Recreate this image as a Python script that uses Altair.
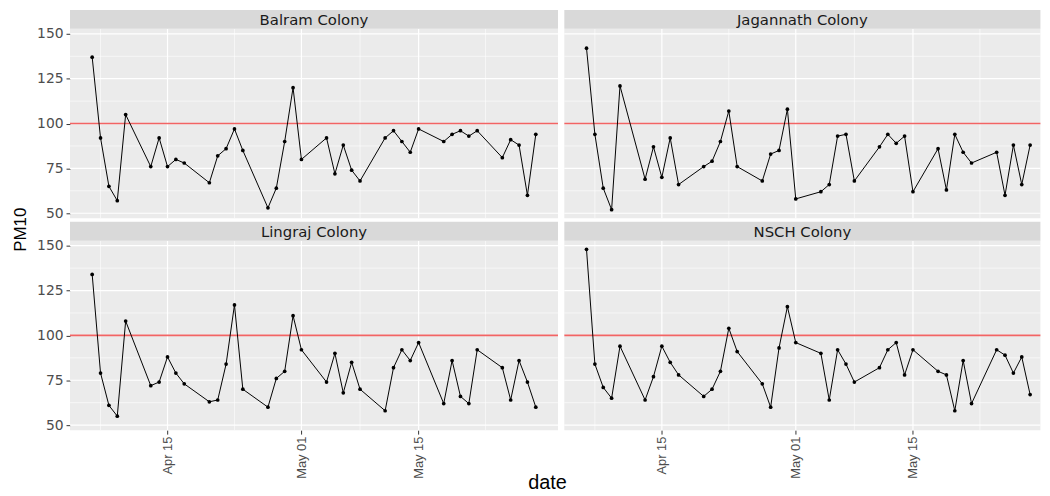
import altair as alt
import pandas as pd

colonies = ["Balram Colony", "Jagannath Colony", "Lingraj Colony", "NSCH Colony"]

dates = [
    "2020-04-06", "2020-04-07", "2020-04-08", "2020-04-09", "2020-04-10",
    "2020-04-13", "2020-04-14", "2020-04-15", "2020-04-16", "2020-04-17",
    "2020-04-20", "2020-04-21", "2020-04-22", "2020-04-23", "2020-04-24",
    "2020-04-27", "2020-04-28", "2020-04-29", "2020-04-30", "2020-05-01",
    "2020-05-04", "2020-05-05", "2020-05-06", "2020-05-07", "2020-05-08",
    "2020-05-11", "2020-05-12", "2020-05-13", "2020-05-14", "2020-05-15",
    "2020-05-18", "2020-05-19", "2020-05-20", "2020-05-21", "2020-05-22",
    "2020-05-25", "2020-05-26", "2020-05-27", "2020-05-28", "2020-05-29",
]

balram = [137, 92, 65, 57, 105, 76, 92, 76, 80, 78,
          67, 82, 86, 97, 85, 53, 64, 90, 120, 80,
          92, 72, 88, 74, 68, 92, 96, 90, 84, 97,
          90, 94, 96, 93, 96, 81, 91, 88, 60, 94]
jagannath = [142, 94, 64, 52, 121, 69, 87, 70, 92, 66,
             76, 79, 90, 107, 76, 68, 83, 85, 108, 58,
             62, 66, 93, 94, 68, 87, 94, 89, 93, 62,
             86, 63, 94, 84, 78, 84, 60, 88, 66, 88]
lingraj = [134, 79, 61, 55, 108, 72, 74, 88, 79, 73,
           63, 64, 84, 117, 70, 60, 76, 80, 111, 92,
           74, 90, 68, 85, 70, 58, 82, 92, 86, 96,
           62, 86, 66, 62, 92, 82, 64, 86, 74, 60]
nsch = [148, 84, 71, 65, 94, 64, 77, 94, 85, 78,
        66, 70, 80, 104, 91, 73, 60, 93, 116, 96,
        90, 64, 92, 84, 74, 82, 92, 96, 78, 92,
        80, 78, 58, 86, 62, 92, 89, 79, 88, 67]
series = [balram, jagannath, lingraj, nsch]

limit = [100]
y_major = [50, 75, 100, 125, 150]
y_minor = [62.5, 87.5, 112.5, 137.5]
x_major = ["2020-04-15", "2020-05-01", "2020-05-15"]
x_minor = ["2020-04-07", "2020-04-23", "2020-05-08", "2020-05-23"]

FONT = "Liberation Sans"
WFONT = "DejaVu Sans"
LEFT_W = 492
RIGHT_W = 480
PANEL_H = 191
STRIP_H = 19


def ms(d):
    return int(pd.Timestamp(d).value // 10**6)


DAY = 86400000
span_days = 53 * 1.1
x_start = ms(dates[0]) - int(2.65 * DAY)
x_end_left = ms(dates[-1]) + int(2.65 * DAY)
x_end_right = x_start + int(RIGHT_W / (LEFT_W / span_days) * DAY)
y_dom = [47.2, 152.8]


def blank_axis():
    return alt.Axis(labels=False, ticks=False, domain=False, grid=False, title="")


def panel(i, width, x_end, left, bottom, y_title=False, x_title=False):
    values = series[i]
    xs = alt.Scale(type="utc", domain=[x_start, x_end], nice=False)
    ys = alt.Scale(domain=y_dom, nice=False, zero=False)
    df = pd.DataFrame({"date": dates, "PM10": values})

    if left:
        yargs = dict(values=y_major, tickSize=4, tickColor="#333333", tickWidth=1,
                     labelPadding=3, labelFont=WFONT, labelFontSize=14,
                     labelColor="#4D4D4D", domain=False, grid=False)
        if y_title:
            yargs.update(title="PM10", titleFont=FONT, titleFontSize=17,
                         titleFontWeight="normal", titleColor="black",
                         titleAngle=270, titleBaseline="middle", titleAlign="center",
                         titleX=-50, titleY=202)
        else:
            yargs.update(title="")
        yaxis = alt.Axis(**yargs)
    else:
        yaxis = blank_axis()

    if bottom:
        xargs = dict(values=[ms(d) for d in x_major], format="%b %d", labelAngle=270,
                     tickSize=4, tickColor="#333333", tickWidth=1, labelPadding=2,
                     labelFont=FONT, labelFontSize=13, labelColor="#4D4D4D",
                     domain=False, grid=False)
        if x_title:
            xargs.update(title="date", titleFont=FONT, titleFontSize=20,
                         titleFontWeight="normal", titleColor="black",
                         titleAlign="center", titleBaseline="alphabetic",
                         titleX=481, titleY=59)
        else:
            xargs.update(title="")
        xaxis = alt.Axis(**xargs)
    else:
        xaxis = blank_axis()

    def xenc(field):
        return alt.X(field, scale=xs, axis=xaxis)

    def yenc(field):
        return alt.Y(field, scale=ys, axis=yaxis)

    gx_minor = alt.Chart(pd.DataFrame({"date": x_minor})).mark_rule(
        color="white", strokeWidth=0.6).encode(x=xenc("date:T"))
    gx_major = alt.Chart(pd.DataFrame({"date": x_major})).mark_rule(
        color="white", strokeWidth=1.2).encode(x=xenc("date:T"))
    gy_minor = alt.Chart(pd.DataFrame({"PM10": y_minor})).mark_rule(
        color="white", strokeWidth=0.6).encode(y=yenc("PM10:Q"))
    gy_major = alt.Chart(pd.DataFrame({"PM10": y_major})).mark_rule(
        color="white", strokeWidth=1.2).encode(y=yenc("PM10:Q"))
    red = alt.Chart(pd.DataFrame({"PM10": limit})).mark_rule(
        stroke="#F26464", strokeWidth=1.6).encode(y=yenc("PM10:Q"))

    line = alt.Chart(df).mark_line(color="black", strokeWidth=1).encode(
        x=xenc("date:T"), y=yenc("PM10:Q"))
    pts = alt.Chart(df).mark_point(filled=True, size=14, color="black", opacity=1).encode(
        x=xenc("date:T"), y=yenc("PM10:Q"))

    sbase = alt.Chart(pd.DataFrame({"name": [colonies[i]]}))
    srect = sbase.mark_rect(color="#D9D9D9").encode(
        x=alt.value(0), x2=alt.value(width), y=alt.value(-STRIP_H), y2=alt.value(0))
    stext = sbase.mark_text(font=WFONT, fontSize=15, color="#1A1A1A",
                            baseline="middle").encode(
        text="name:N", x=alt.value(width / 2), y=alt.value(-STRIP_H / 2 + 0.5))

    return alt.layer(gx_minor, gx_major, gy_minor, gy_major, red, line, pts,
                     srect, stext).properties(width=width, height=PANEL_H)


chart = alt.concat(
    panel(0, LEFT_W, x_end_left, True, False, y_title=True),
    panel(1, RIGHT_W, x_end_right, False, False),
    panel(2, LEFT_W, x_end_left, True, True, x_title=True),
    panel(3, RIGHT_W, x_end_right, False, True),
    columns=2, spacing={"row": STRIP_H + 3.6, "column": 6.4}, bounds="flush",
).properties(
    padding={"left": 3.5, "top": 0, "right": 0, "bottom": 0}
).configure(background="white").configure_view(fill="#EBEBEB", strokeWidth=0)

chart.save("out.html", embed_options={"renderer": "svg", "actions": False})
